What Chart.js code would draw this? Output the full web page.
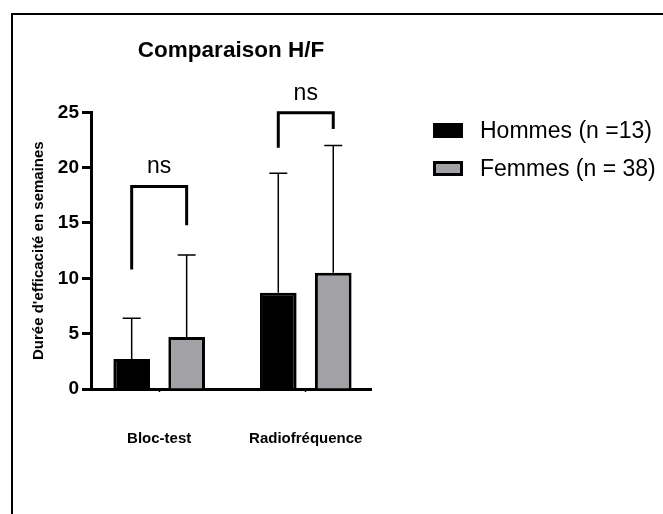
<!DOCTYPE html>
<html>
<head>
<meta charset="utf-8">
<script src="https://cdn.jsdelivr.net/npm/chart.js@4/dist/chart.umd.min.js"></script>
<style>
  html, body { margin: 0; padding: 0; background: #fff; }
  #wrap { position: relative; width: 663px; height: 514px; overflow: hidden; }
  #frame { position: absolute; left: 11px; top: 13px; width: 700px; height: 600px; border: 2px solid #000; }
  #legend { position: absolute; left: 433px; top: 111px; font-family: "Liberation Sans", Arial, sans-serif; font-size: 23px; color: #000; }
  #legend .item { display: flex; align-items: center; height: 38px; white-space: nowrap; }
  #legend .box { width: 30px; height: 15px; box-sizing: border-box; border: 3px solid #000; margin-right: 17px; }
</style>
</head>
<body>
<div id="wrap">
  <div id="frame"></div>
  <canvas id="chart" width="663" height="514"></canvas>
  <div id="legend"></div>
</div>
<script>
const categories = ['Bloc-test', 'Radiofréquence'];
const seriesNames = ['Hommes (n =13)', 'Femmes (n = 38)'];
const hommesMean = [2.7, 8.7];
const femmesMean = [4.7, 10.5];
const hommesSD = [3.7, 10.8];
const femmesSD = [7.4, 11.5];
const yTicks = [0, 5, 10, 15, 20, 25];

// significance brackets per category: [left leg end, top, right leg end] in weeks
const bracketLeft = [10.8, 21.8];
const bracketTop = [18.3, 24.95];
const bracketRight = [14.8, 23.5];
const bracketText = ['ns', 'ns'];

const FONT = '"Liberation Sans", Arial, sans-serif';
const sds = [hommesSD, femmesSD];
const toPoints = arr => arr.map((v, i) => ({ x: i, y: v }));

const errorBars = {
  id: 'errorBars',
  afterDatasetsDraw(chart) {
    const ctx = chart.ctx;
    const y = chart.scales.y;
    ctx.save();
    ctx.strokeStyle = '#000';
    ctx.lineWidth = 1.5;
    chart.data.datasets.forEach((ds, di) => {
      chart.getDatasetMeta(di).data.forEach((bar, i) => {
        const top = y.getPixelForValue(ds.data[i].y + sds[di][i]);
        ctx.beginPath();
        ctx.moveTo(bar.x, bar.y);
        ctx.lineTo(bar.x, top);
        ctx.moveTo(bar.x - 9, top);
        ctx.lineTo(bar.x + 9, top);
        ctx.stroke();
      });
    });
    ctx.restore();
  }
};

const brackets = {
  id: 'brackets',
  afterDraw(chart) {
    const ctx = chart.ctx;
    const y = chart.scales.y;
    const left = chart.getDatasetMeta(0).data;
    const right = chart.getDatasetMeta(1).data;
    ctx.save();
    ctx.strokeStyle = '#000';
    ctx.lineWidth = 3;
    ctx.fillStyle = '#000';
    ctx.font = '23px ' + FONT;
    ctx.textAlign = 'center';
    ctx.textBaseline = 'alphabetic';
    categories.forEach((c, i) => {
      const x1 = left[i].x, x2 = right[i].x;
      const top = y.getPixelForValue(bracketTop[i]);
      ctx.beginPath();
      ctx.moveTo(x1, y.getPixelForValue(bracketLeft[i]));
      ctx.lineTo(x1, top);
      ctx.lineTo(x2, top);
      ctx.lineTo(x2, y.getPixelForValue(bracketRight[i]));
      ctx.stroke();
      ctx.fillText(bracketText[i], (x1 + x2) / 2, top - 13);
    });
    ctx.restore();
  }
};

const htmlLegend = {
  id: 'htmlLegend',
  afterUpdate(chart) {
    const el = document.getElementById('legend');
    el.innerHTML = '';
    chart.data.datasets.forEach(ds => {
      const item = document.createElement('div');
      item.className = 'item';
      const box = document.createElement('span');
      box.className = 'box';
      box.style.background = ds.backgroundColor;
      const txt = document.createElement('span');
      txt.textContent = ds.label;
      item.appendChild(box);
      item.appendChild(txt);
      el.appendChild(item);
    });
  }
};

new Chart(document.getElementById('chart'), {
  type: 'bar',
  data: {
    datasets: [{
      label: seriesNames[0],
      data: toPoints(hommesMean),
      backgroundColor: '#000',
      borderColor: '#000',
      borderWidth: 3
    }, {
      label: seriesNames[1],
      data: toPoints(femmesMean),
      backgroundColor: '#a2a2a6',
      borderColor: '#000',
      borderWidth: 3
    }]
  },
  options: {
    responsive: false,
    animation: false,
    categoryPercentage: 0.75,
    barPercentage: 0.667,
    layout: { padding: { left: 0, right: 292, top: 0, bottom: 0 } },
    plugins: {
      legend: { display: false },
      tooltip: { enabled: false },
      title: {
        display: true,
        text: 'Comparaison H/F',
        fullSize: false,
        color: '#000',
        font: { family: FONT, size: 22.5, weight: 'bold' },
        padding: { top: 37, bottom: 48.3 }
      }
    },
    scales: {
      x: {
        type: 'linear',
        min: -0.465,
        max: 1.445,
        offset: false,
        afterBuildTicks(scale) { scale.ticks = categories.map((c, i) => ({ value: i })); },
        grid: { display: true, offset: false, drawOnChartArea: false, tickLength: 3, tickWidth: 1.5, tickColor: '#000' },
        border: { display: true, color: '#000', width: 3 },
        ticks: {
          color: '#000',
          padding: 38,
          font: { family: FONT, size: 15, weight: 'bold' },
          callback: v => categories[v]
        },
        afterFit(scale) { scale.height = 125; }
      },
      y: {
        min: 0,
        max: 25,
        afterBuildTicks(scale) { scale.ticks = yTicks.map(v => ({ value: v })); },
        grid: { display: true, drawOnChartArea: false, tickLength: 9, tickWidth: 3, tickColor: '#000' },
        border: { display: true, color: '#000', width: 3 },
        ticks: { color: '#000', padding: 3, font: { family: FONT, size: 19, weight: 'bold' } },
        title: {
          display: true,
          text: "Durée d'efficacité en semaines",
          color: '#000',
          font: { family: FONT, size: 15, weight: 'bold' },
          padding: { top: 30, bottom: 0 }
        },
        afterFit(scale) { scale.width = 91; }
      }
    }
  },
  plugins: [errorBars, brackets, htmlLegend]
});
</script>
</body>
</html>
